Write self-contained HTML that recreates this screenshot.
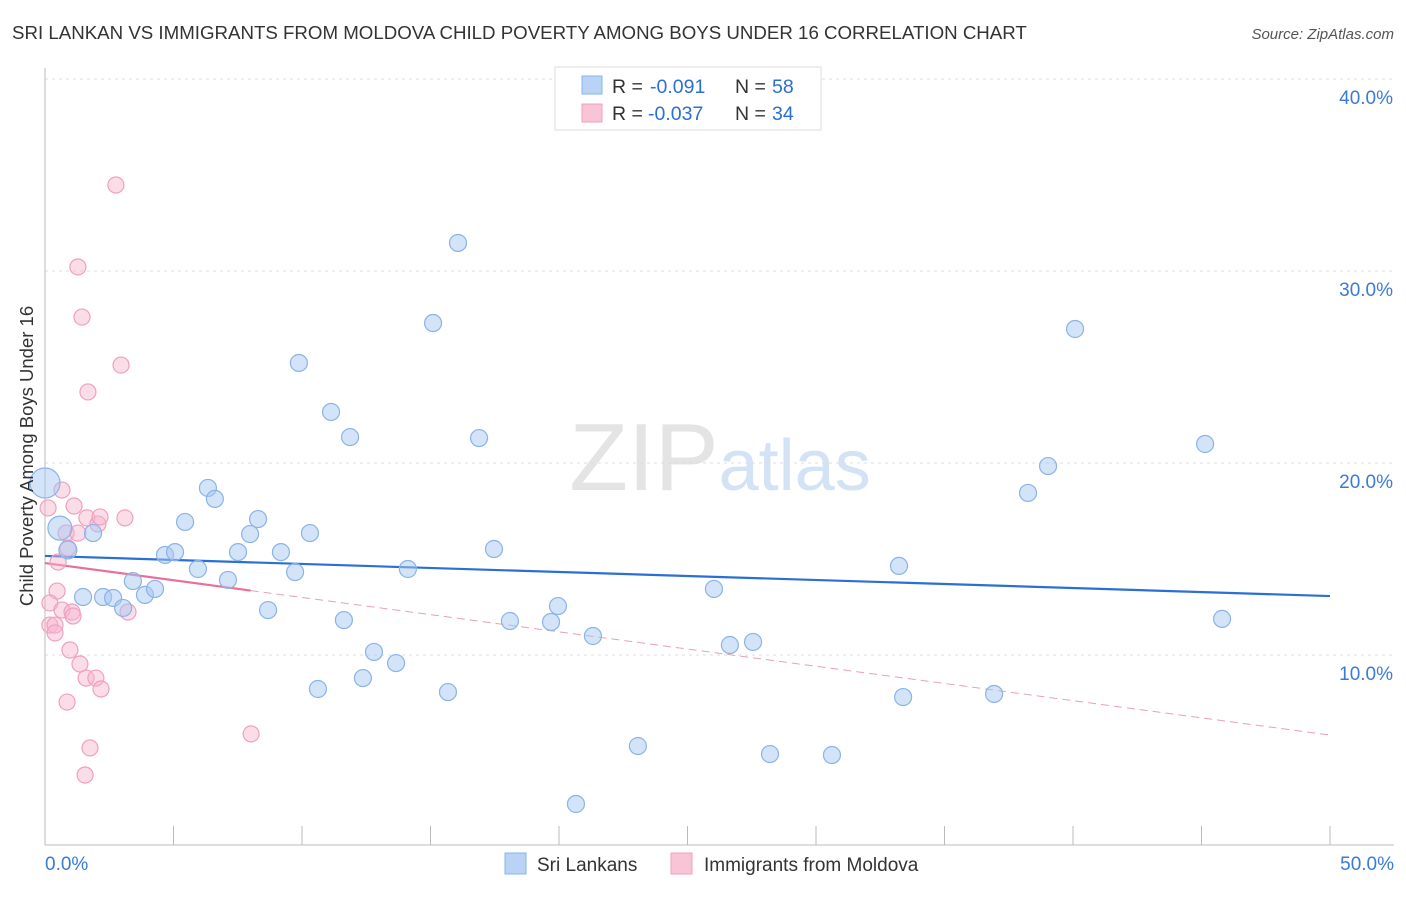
<!DOCTYPE html>
<html><head><meta charset="utf-8"><style>
body{margin:0;background:#fff;font-family:"Liberation Sans",sans-serif;}
svg text{font-family:"Liberation Sans",sans-serif;}
</style></head><body>
<svg id="chart" width="1406" height="892" xmlns="http://www.w3.org/2000/svg">
<text x="12" y="39" font-size="18.7" fill="#333">SRI LANKAN VS IMMIGRANTS FROM MOLDOVA CHILD POVERTY AMONG BOYS UNDER 16 CORRELATION CHART</text>
<text x="1394" y="39" font-size="15" fill="#555" text-anchor="end" font-style="italic">Source: ZipAtlas.com</text>
<text x="720" y="490" font-size="96" text-anchor="middle" fill="#e4e4e4" font-family="Liberation Serif">ZIP<tspan fill="#d3e2f4" font-family="Liberation Sans" font-size="72">atlas</tspan></text>
<g id="grid"></g><g id="axes"></g><g id="lines"></g><g id="pts"></g>
<text transform="translate(33,456) rotate(-90)" font-size="18.5" fill="#333" text-anchor="middle">Child Poverty Among Boys Under 16</text>
<g>
<rect x="555" y="67" width="266" height="63" fill="#fff" stroke="#ddd"/>
<rect x="582" y="76" width="20" height="18" fill="#b8d3f5" stroke="#8ab4e8"/>
<rect x="582" y="104" width="20" height="18" fill="#f9c5d6" stroke="#f0a0bc"/>
<text x="612" y="93" font-size="19.5" fill="#333">R = </text>
<text x="650" y="93" font-size="19.5" fill="#2a6fd6">-0.091</text>
<text x="735" y="93" font-size="19.5" fill="#333">N = </text>
<text x="772" y="93" font-size="19.5" fill="#2a6fd6">58</text>
<text x="612" y="120" font-size="19.5" fill="#333">R = </text>
<text x="648" y="120" font-size="19.5" fill="#2a6fd6">-0.037</text>
<text x="735" y="120" font-size="19.5" fill="#333">N = </text>
<text x="772" y="120" font-size="19.5" fill="#2a6fd6">34</text>
</g>
<g>
<rect x="505" y="853" width="21" height="21" fill="#b8d3f5" stroke="#8ab4e8"/>
<text x="537" y="871" font-size="19" fill="#333">Sri Lankans</text>
<rect x="671" y="853" width="21" height="21" fill="#f9c5d6" stroke="#f0a0bc"/>
<text x="704" y="871" font-size="19" fill="#333">Immigrants from Moldova</text>
</g>
</svg>
<script>
const yTicks=[10,20,30,40];
const xTickLabels=["0.0%","50.0%"];
const blueX=[0,0.58,0.89,1.87,1.48,2.26,2.65,3.04,3.42,3.89,4.28,4.67,5.06,5.45,5.95,6.34,6.61,7.12,7.51,7.98,8.29,8.68,9.18,9.73,10.31,9.88,10.62,11.13,11.63,11.87,12.37,12.80,13.66,14.12,15.10,15.68,16.07,16.89,17.47,18.09,19.69,19.96,20.66,21.32,23.07,26.03,26.65,27.55,28.21,30.62,33.23,33.39,36.93,38.25,39.03,40.08,45.14,45.80];
const blueY=[18.96,16.61,15.47,16.35,13.02,13.02,12.97,12.45,13.85,13.13,13.44,15.21,15.36,16.93,14.48,18.70,18.13,13.91,15.36,16.30,17.08,12.34,15.36,14.32,16.35,25.21,8.23,22.66,11.82,21.35,8.80,10.16,9.58,14.48,27.29,8.07,31.46,21.30,15.52,11.77,11.72,12.55,2.24,10.99,5.26,13.44,10.52,10.68,4.84,4.79,14.64,7.81,7.97,18.44,19.84,26.98,20.99,11.88];
const blueBig=[15,12,9];
const pinkX=[2.76,1.28,1.44,2.96,1.67,0.66,0.12,1.13,1.63,2.06,3.11,2.14,0.82,1.28,0.89,0.51,0.47,0.19,0.66,1.05,1.09,3.23,0.19,0.39,0.39,0.97,1.36,1.60,1.98,2.18,0.86,1.75,1.56,8.02];
const pinkY=[34.48,30.21,27.60,25.10,23.70,18.59,17.66,17.76,17.14,16.82,17.14,17.19,16.35,16.35,15.57,14.84,13.33,12.71,12.34,12.24,12.03,12.24,11.56,11.56,11.15,10.26,9.53,8.80,8.80,8.23,7.55,5.16,3.75,5.89];
const blueTrend=[15.16,13.07];
const pinkTrend=[14.79,5.83];
const pinkSolidEnd=8;
const NS="http://www.w3.org/2000/svg";
const sx=v=>45+v*25.7, sy=v=>847-v*19.2;
function mk(tag,at,parent){const e=document.createElementNS(NS,tag);for(const k in at)e.setAttribute(k,at[k]);document.getElementById(parent).appendChild(e);return e;}
yTicks.forEach(t=>{
 const g=mk('line',{x1:45,x2:1394,y1:sy(t),y2:sy(t),stroke:'#ddd','stroke-dasharray':'3,4'},'grid');
 
 
 const l=mk('text',{x:1393,y:sy(t)+25,'font-size':19,fill:'#3a7bd5','text-anchor':'end'},'axes');l.textContent=t.toFixed(1)+'%';
 
 
});
const ax=mk('line',{x1:45,x2:1394,y1:845,y2:845,stroke:'#bbb'},'axes');


const ay=mk('line',{x1:45,x2:45,y1:68,y2:845,stroke:'#bbb'},'axes');


for(let i=0;i<=10;i++){const t=mk('line',{x1:sx(i*5),x2:sx(i*5),y1:826,y2:845,stroke:'#bbb'},'axes');
 
 }
[[0,'start',45],[50,'end',1394]].forEach((d,i)=>{const l=mk('text',{x:d[2],y:870,'font-size':19,fill:'#3a7bd5','text-anchor':d[1]},'axes');l.textContent=xTickLabels[i];
 
 });
function dot(x,y,r,f,s,n){const c=mk('circle',{cx:sx(x),cy:sy(y),r:r,fill:f,stroke:s,'stroke-width':1.2},'pts');
 
 }
pinkX.forEach((x,i)=>dot(x,pinkY[i],8,'rgba(246,180,204,0.45)','#f0a0bc','moldova-point'));
blueX.forEach((x,i)=>dot(x,blueY[i],i<3?blueBig[i]:8.5,'rgba(168,200,242,0.5)','#8ab4e8','sri-lankan-point'));
const bl=mk('line',{x1:sx(0),y1:sy(blueTrend[0]),x2:sx(50),y2:sy(blueTrend[1]),stroke:'#2a6fd6','stroke-width':2.2},'lines');


const pm=pinkTrend[0]+(pinkTrend[1]-pinkTrend[0])*pinkSolidEnd/50;
const pl=mk('line',{x1:sx(0),y1:sy(pinkTrend[0]),x2:sx(pinkSolidEnd),y2:sy(pm),stroke:'#e8709a','stroke-width':2.2},'lines');


const pd=mk('line',{x1:sx(pinkSolidEnd),y1:sy(pm),x2:sx(50),y2:sy(pinkTrend[1]),stroke:'#e8a0b8','stroke-width':1,'stroke-dasharray':'8,5'},'lines');


</script>
</body></html>
